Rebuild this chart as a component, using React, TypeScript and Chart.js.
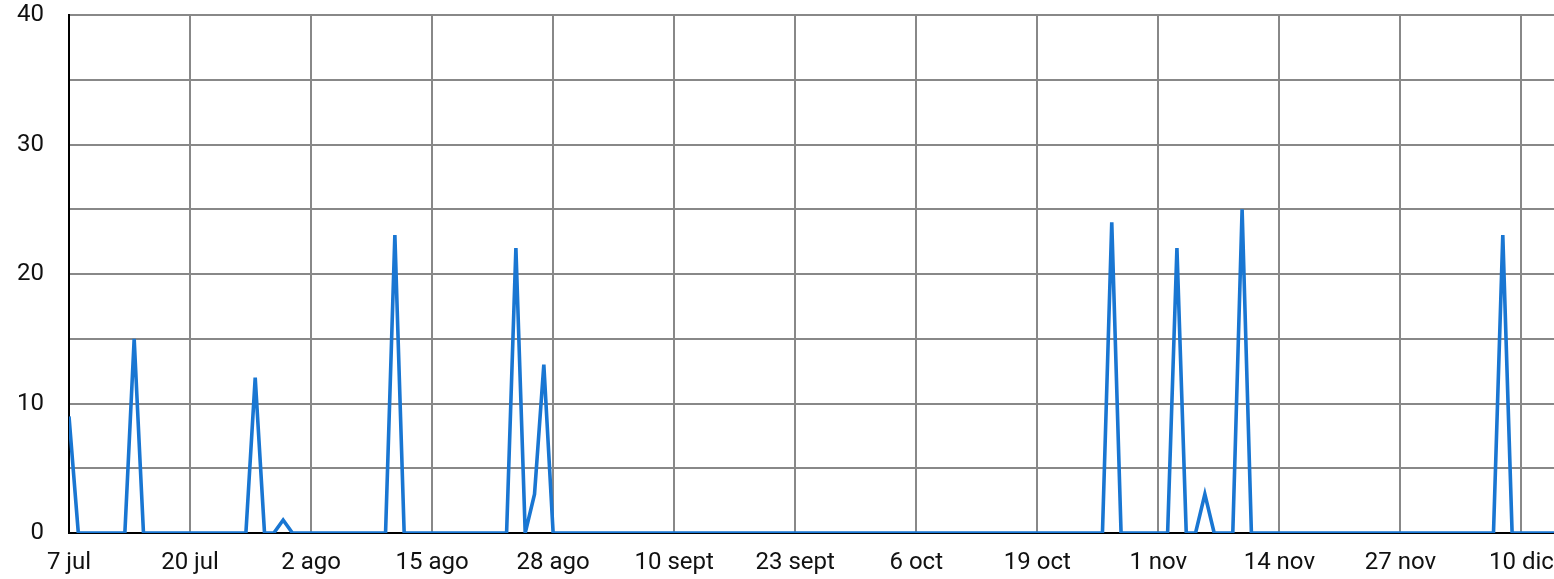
import React, { useEffect, useRef } from "react";
import { Chart, registerables } from "chart.js";

Chart.register(...registerables);

// Daily values starting at 7 jul (day 0)
const values: number[] = [
  9, 0, 0, 0, 0, 0, 0, 15, 0, 0,
  0, 0, 0, 0, 0, 0, 0, 0, 0, 0,
  12, 0, 0, 1, 0, 0, 0, 0, 0, 0,
  0, 0, 0, 0, 0, 23, 0, 0, 0, 0,
  0, 0, 0, 0, 0, 0, 0, 0, 22, 0,
  3, 13, 0, 0, 0, 0, 0, 0, 0, 0,
  0, 0, 0, 0, 0, 0, 0, 0, 0, 0,
  0, 0, 0, 0, 0, 0, 0, 0, 0, 0,
  0, 0, 0, 0, 0, 0, 0, 0, 0, 0,
  0, 0, 0, 0, 0, 0, 0, 0, 0, 0,
  0, 0, 0, 0, 0, 0, 0, 0, 0, 0,
  0, 0, 24, 0, 0, 0, 0, 0, 0, 22,
  0, 0, 3, 0, 0, 0, 25, 0, 0, 0,
  0, 0, 0, 0, 0, 0, 0, 0, 0, 0,
  0, 0, 0, 0, 0, 0, 0, 0, 0, 0,
  0, 0, 0, 0, 23, 0, 0, 0, 0, 0,
  0,
];

const tickDays: number[] = [0, 13, 26, 39, 52, 65, 78, 91, 104, 117, 130, 143, 156];
const tickLabels: string[] = [
  "7 jul", "20 jul", "2 ago", "15 ago", "28 ago", "10 sept", "23 sept",
  "6 oct", "19 oct", "1 nov", "14 nov", "27 nov", "10 dic",
];
const yTicks: number[] = [0, 5, 10, 15, 20, 25, 30, 35, 40];
const yLabels: string[] = ["0", "", "10", "", "20", "", "30", "", "40"];

export default function App() {
  const ref = useRef<HTMLCanvasElement | null>(null);

  useEffect(() => {
    document.body.style.margin = "0";
    if (!ref.current) return;
    const font = { family: "Roboto", size: 24 };
    const chart = new Chart(ref.current, {
      type: "line",
      data: {
        datasets: [
          {
            data: values.map((v, i) => ({ x: i, y: v })),
            borderColor: "#1976d2",
            borderWidth: 3.6,
            pointRadius: 0,
            tension: 0,
            fill: false,
          },
        ],
      },
      options: {
        animation: false,
        responsive: false,
        maintainAspectRatio: false,
        layout: { padding: { left: 0, top: 15, right: 0, bottom: 0 } },
        plugins: { legend: { display: false }, tooltip: { enabled: false } },
        scales: {
          x: {
            type: "linear",
            min: 0,
            max: 159.5,
            afterBuildTicks: (scale: any) => {
              scale.ticks = tickDays.map((v) => ({ value: v }));
            },
            afterFit: (scale: any) => {
              scale.height = 46;
              scale.paddingLeft = 0;
              scale.paddingRight = 0;
            },
            ticks: {
              autoSkip: false,
              maxRotation: 0,
              padding: 16,
              color: "#111",
              font,
              callback: (v: any) => {
                const idx = tickDays.indexOf(Number(v));
                return idx >= 0 ? tickLabels[idx] : "";
              },
            },
            grid: { color: "#888", lineWidth: 2, drawTicks: false },
            border: { color: "#000", width: 2 },
          },
          y: {
            min: 0,
            max: 40,
            afterBuildTicks: (scale: any) => {
              scale.ticks = yTicks.map((v) => ({ value: v }));
            },
            afterFit: (scale: any) => {
              scale.width = 69;
              scale.paddingTop = 0;
              scale.paddingBottom = 0;
            },
            ticks: {
              padding: 25,
              color: "#111",
              font,
              callback: (v: any) => {
                const idx = yTicks.indexOf(Number(v));
                return idx >= 0 ? yLabels[idx] : "";
              },
            },
            grid: { color: "#888", lineWidth: 2, drawTicks: false },
            border: { color: "#000", width: 2 },
          },
        },
      },
    });
    return () => chart.destroy();
  }, []);

  return (
    <div style={{ position: "fixed", left: 0, top: 0, width: 1554, height: 579 }}>
      <canvas ref={ref} width={1554} height={579} style={{ width: 1554, height: 579 }} />
    </div>
  );
}
